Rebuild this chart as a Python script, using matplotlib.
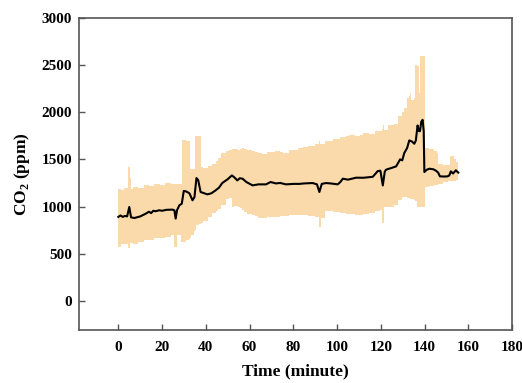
import matplotlib
matplotlib.use("Agg")
import matplotlib.pyplot as plt
import numpy as np

# Mean CO2 line
t_mean = [0, 1, 2, 3, 4, 5, 5.8, 7.3, 10, 12.6, 14, 15, 16, 17, 18.7, 20, 22, 24.8, 25.6, 26.2, 26.8, 27.9,
          29.0, 29.9, 31, 32.5, 33.9, 34.8, 35.7, 36.5, 37.6, 40.7, 42.5, 44.5, 46, 47.5, 50, 51.9,
          53, 54.4, 55.5, 56.8, 58.5, 61.4, 64, 67.5, 69.6, 72, 74, 76.6, 80, 82.7, 85, 88.8,
          90.8, 91.9, 93, 94.9, 97, 100.3, 101.5, 102.6, 105, 108.7, 112, 116.3, 118.6, 119.8, 120.9,
          121.8, 122.4, 125, 127, 128.8, 129.8, 130.7, 132, 133, 134.2, 135.3, 136, 136.8, 137.4, 137.9,
          138.5, 139.1, 139.6, 139.9, 141, 142.2, 144, 145.2, 146.2, 147, 149, 150.5, 151.3, 152, 153,
          154.3, 155.4]
co2_mean = [890, 905, 890, 900, 895, 995, 885, 878, 895, 925, 945, 930, 955, 950, 960, 955, 965, 967, 960, 872, 960, 1013,
            1030, 1165, 1160, 1140, 1066, 1100, 1302, 1280, 1154, 1129, 1140, 1172, 1200, 1249, 1290, 1330,
            1310, 1277, 1300, 1295, 1260, 1224, 1235, 1235, 1260, 1245, 1250, 1235, 1240, 1240, 1245, 1249,
            1235, 1154, 1240, 1249, 1245, 1235, 1260, 1295, 1285, 1306, 1305, 1315, 1376, 1380, 1224,
            1370, 1391, 1410, 1426, 1500, 1490, 1567, 1620, 1701, 1690, 1666, 1700, 1860, 1800, 1800,
            1900, 1920, 1800, 1366, 1390, 1401, 1395, 1380, 1360, 1320, 1318, 1320, 1330, 1373, 1350,
            1384, 1360]

# Band (range) upper and lower limits
t_up = [0, 2, 3, 4.3, 4.5, 5.5, 5.7, 8, 10, 13, 15, 18, 20, 23, 25, 29.2, 29.4, 32.6, 32.8, 34.8, 35,
        37.5, 37.7, 40, 42, 44, 46, 48, 50, 53, 55, 57, 60, 63, 66, 70, 73, 76, 80, 84, 88, 91.5, 92, 92.5,
        96, 100, 103, 106, 110, 113, 116, 119, 120.5, 121, 121.5, 125, 127, 129, 131, 132.5, 133.5,
        134.5, 135.5, 136, 137, 137.5, 138, 140, 140.2, 144, 146, 146.5, 151.5, 152, 153, 153.5, 155.5]
co2_up = [1190, 1180, 1200, 1195, 1420, 1420, 1190, 1210, 1200, 1230, 1215, 1240, 1225, 1245, 1235,
          1240, 1710, 1690, 1400, 1400, 1750, 1750, 1420, 1410, 1430, 1450, 1510, 1570, 1590, 1615, 1600,
          1625, 1595, 1580, 1560, 1575, 1590, 1570, 1600, 1620, 1645, 1660, 1700, 1665, 1700, 1720, 1740,
          1755, 1750, 1780, 1770, 1800, 1800, 1860, 1810, 1870, 1880, 1960, 2050, 2150, 2200, 2130, 2150,
          2500, 2490, 2200, 2600, 2600, 1620, 1610, 1570, 1450, 1440, 1540, 1540, 1500, 1470]
t_lo = [0, 2, 4.5, 4.6, 5.5, 5.6, 8, 10, 13, 15, 18, 20, 23, 25, 25.8, 26.6, 26.8, 28, 29.2, 32, 34, 36,
        40, 45, 48, 50, 51.5, 52.5, 54, 56, 58, 60, 62, 65, 70, 75, 80, 85, 88, 91.5, 91.8, 92.6, 92.8,
        96, 100, 105, 111, 116, 120.5, 120.7, 121.5, 121.7, 125, 127, 130, 133, 136, 137, 140, 140.2,
        145, 150, 155.5]
co2_lo = [575, 600, 600, 560, 560, 610, 600, 625, 640, 650, 665, 670, 680, 695, 570, 570, 700, 700, 620,
          640, 700, 800, 850, 950, 1020, 1080, 1090, 1000, 1010, 980, 940, 920, 905, 880, 885, 900, 910,
          905, 900, 890, 780, 780, 880, 950, 940, 925, 907, 930, 960, 825, 825, 990, 1000, 1013, 1100,
          1090, 1060, 1000, 995, 1210, 1225, 1260, 1280]

x_ticks = [0, 20, 40, 60, 80, 100, 120, 140, 160, 180]
y_ticks = [0, 500, 1000, 1500, 2000, 2500, 3000]

grid = np.union1d(np.array(t_up), np.array(t_lo))
up_i = np.interp(grid, t_up, co2_up)
lo_i = np.interp(grid, t_lo, co2_lo)

plt.rcParams['font.family'] = ['Liberation Serif', 'DejaVu Serif']
plt.rcParams['mathtext.fontset'] = 'custom'
plt.rcParams['mathtext.rm'] = 'Liberation Serif:bold'
plt.rcParams['mathtext.bf'] = 'Liberation Serif:bold'

fig = plt.figure(figsize=(5.22, 3.83), dpi=100)
ax = fig.add_axes([0.1513, 0.1384, 0.981 - 0.1513, 0.953 - 0.1384])
ax.fill_between(grid, lo_i, up_i, color='#FADAAB', linewidth=0, step='mid')
ax.plot(t_mean, co2_mean, color='black', linewidth=1.5)

ax.set_xlim(-18, 180)
ax.set_ylim(-310, 3000)
ax.set_xticks(x_ticks)
ax.set_yticks(y_ticks)
ax.tick_params(direction='in', length=4, width=1, color='#555555')
ax.tick_params(axis='x', pad=8)
ax.tick_params(axis='y', pad=5)
for lab in ax.get_xticklabels() + ax.get_yticklabels():
    lab.set_fontweight('bold')
    lab.set_fontsize(11)
for s in ax.spines.values():
    s.set_color('#555555')
    s.set_linewidth(1.2)
ax.set_xlabel('Time (minute)', fontsize=12.5, fontweight='bold', labelpad=7)
ax.set_ylabel(r'CO$_\mathbf{2}$ (ppm)', fontsize=12.5, fontweight='bold', labelpad=7)

fig.savefig('out.png', dpi=100)
